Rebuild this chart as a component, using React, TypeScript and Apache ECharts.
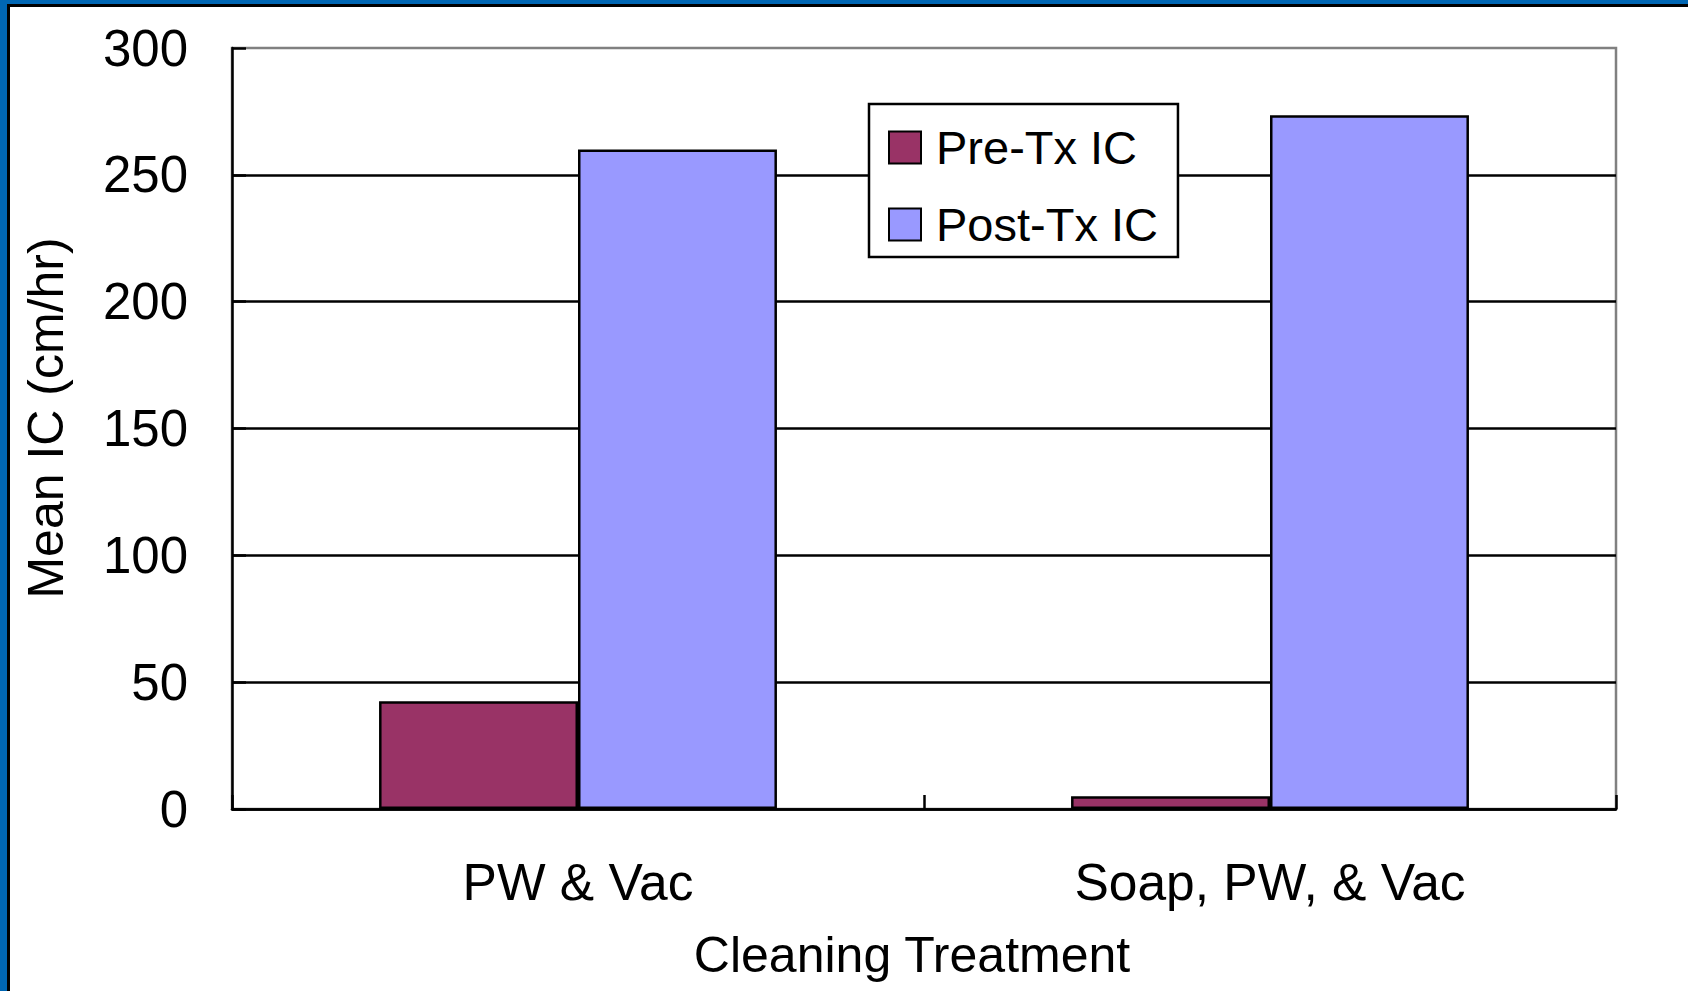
import React, { useEffect, useRef } from "react";
import * as echarts from "echarts";

const categories = ["PW & Vac", "Soap, PW, & Vac"];
const preTx = [42.5, 5];
const postTx = [260, 273.5];
const seriesNames = ["Pre-Tx IC", "Post-Tx IC"];
const yMin = 0;
const yMax = 300;
const yInterval = 50;

const FONT = "'Liberation Sans', Arial, sans-serif";

export default function App() {
  const ref = useRef<HTMLDivElement>(null);
  useEffect(() => {
    if (!ref.current) return;
    const chart = echarts.init(ref.current, undefined, { renderer: "svg" });
    chart.setOption({
      animation: false,
      backgroundColor: "#ffffff",
      textStyle: { fontFamily: FONT, color: "#000" },
      grid: {
        left: 232,
        top: 48,
        right: 72,
        bottom: 182,
        show: true,
        borderColor: "#808080",
        borderWidth: 2.5,
        backgroundColor: "transparent",
      },
      legend: {
        orient: "vertical",
        left: 869,
        top: 104,
        data: seriesNames,
        itemWidth: 32,
        itemHeight: 32,
        itemGap: 30,
        padding: [20, 20, 9, 19],
        borderColor: "#000",
        borderWidth: 2.5,
        backgroundColor: "#fff",
        borderRadius: 0,
        icon: "rect",
        textStyle: {
          fontFamily: FONT,
          fontSize: 47,
          color: "#000",
          lineHeight: 47,
          padding: [0, 0, 0, 10],
        },
      },
      xAxis: {
        type: "category",
        data: categories,
        name: "Cleaning Treatment",
        nameLocation: "middle",
        nameGap: 121,
        nameTextStyle: {
          fontFamily: FONT,
          fontSize: 50,
          color: "#000",
          padding: [0, 24, 0, 0],
        },
        axisLine: { lineStyle: { color: "#000", width: 2.5 } },
        axisTick: {
          show: true,
          inside: true,
          length: 14,
          lineStyle: { color: "#000", width: 2.5 },
        },
        axisLabel: {
          fontFamily: FONT,
          fontSize: 51.5,
          color: "#000",
          margin: 47,
        },
      },
      yAxis: {
        type: "value",
        min: yMin,
        max: yMax,
        interval: yInterval,
        name: "Mean IC (cm/hr)",
        nameLocation: "middle",
        nameGap: 161,
        nameTextStyle: {
          fontFamily: FONT,
          fontSize: 50,
          color: "#000",
          padding: [0, 0, 0, 21],
        },
        axisLine: { show: true, lineStyle: { color: "#000", width: 2.5 } },
        axisTick: {
          show: true,
          inside: true,
          length: 14,
          lineStyle: { color: "#000", width: 2.5 },
        },
        axisLabel: {
          fontFamily: FONT,
          fontSize: 51,
          color: "#000",
          margin: 44,
        },
        splitLine: {
          show: true,
          showMaxLine: false,
          lineStyle: { color: "#000", width: 2.5 },
        },
      },
      series: [
        {
          name: seriesNames[0],
          type: "bar",
          data: preTx,
          barGap: "0%",
          barCategoryGap: "42.5%",
          itemStyle: { color: "#993366", borderColor: "#000", borderWidth: 2.5 },
        },
        {
          name: seriesNames[1],
          type: "bar",
          data: postTx,
          barGap: "0%",
          barCategoryGap: "42.5%",
          itemStyle: { color: "#9999ff", borderColor: "#000", borderWidth: 2.5 },
        },
      ],
      graphic: [
        { type: "rect", shape: { x: 0, y: 0, width: 1688, height: 4 }, style: { fill: "#0066b3" }, z: 100 },
        { type: "rect", shape: { x: 0, y: 0, width: 7, height: 991 }, style: { fill: "#0066b3" }, z: 100 },
        { type: "rect", shape: { x: 7, y: 4, width: 1681, height: 3 }, style: { fill: "#000" }, z: 100 },
        { type: "rect", shape: { x: 7, y: 4, width: 3, height: 987 }, style: { fill: "#000" }, z: 100 },
      ],
    });
    return () => chart.dispose();
  }, []);
  return (
    <div
      ref={ref}
      style={{ position: "fixed", left: 0, top: 0, width: 1688, height: 991, background: "#fff" }}
    />
  );
}
